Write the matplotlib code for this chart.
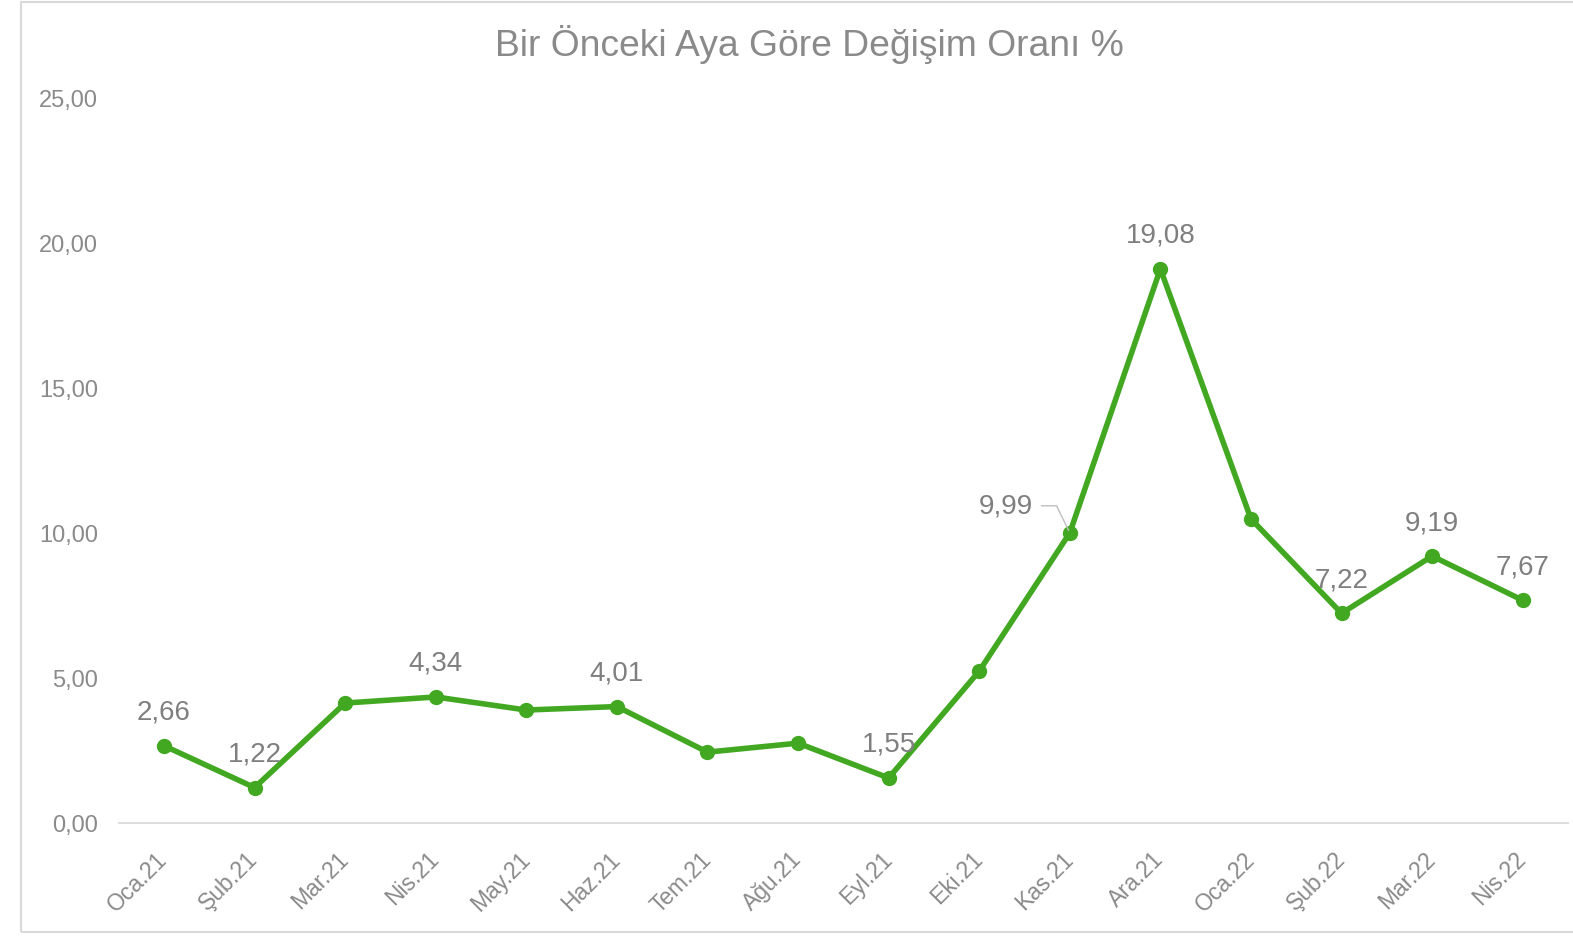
import matplotlib
matplotlib.use("Agg")
import matplotlib.pyplot as plt
from matplotlib.patches import Rectangle
from matplotlib.ticker import FuncFormatter

months = ["Oca.21", "Şub.21", "Mar.21", "Nis.21", "May.21", "Haz.21", "Tem.21", "Ağu.21",
          "Eyl.21", "Eki.21", "Kas.21", "Ara.21", "Oca.22", "Şub.22", "Mar.22", "Nis.22"]
change = [2.66, 1.22, 4.13, 4.34, 3.89, 4.01, 2.44, 2.75,
          1.55, 5.23, 9.99, 19.08, 10.47, 7.22, 9.19, 7.67]
labelled = ["Oca.21", "Şub.21", "Nis.21", "Haz.21", "Eyl.21", "Kas.21",
            "Ara.21", "Şub.22", "Mar.22", "Nis.22"]
yticks = [0, 5, 10, 15, 20, 25]

plt.rcParams['font.family'] = ['Liberation Sans', 'DejaVu Sans']

fig = plt.figure(figsize=(15.73, 9.37), dpi=100)
ax = fig.add_axes([118.7 / 1573, 1 - 824 / 937, (1568 - 118.7) / 1573, (824 - 98) / 937])

# outer chart frame
fig.patches.append(Rectangle((21 / 1573, 1 - 933 / 937), 1.1, 930 / 937,
                             transform=fig.transFigure, fill=False,
                             edgecolor='#d9d9d9', linewidth=1.5))

green = '#42a821'
x = range(len(months))
ax.plot(x, change, color=green, linewidth=4, marker='o', markersize=10,
        solid_joinstyle='round', zorder=3)

ax.set_xlim(-0.5, len(months) - 0.5)
ax.set_ylim(0, 25)
ax.set_yticks(yticks)
ax.yaxis.set_major_formatter(FuncFormatter(lambda v, p: f"{v:.2f}".replace('.', ',')))
ax.set_xticks(list(x))
ax.set_xticklabels(months, rotation=45, ha='right', va='center', rotation_mode='anchor')

for s in ['top', 'right', 'left']:
    ax.spines[s].set_visible(False)
ax.spines['bottom'].set_color('#d9d9d9')
ax.spines['bottom'].set_linewidth(1.3)
ax.tick_params(axis='both', length=0, colors='#8a8a8a')
ax.tick_params(axis='y', labelsize=17, pad=15)
ax.tick_params(axis='x', labelsize=16.5, pad=23)
for lbl in ax.get_xticklabels():
    lbl.set_x(lbl.get_position()[0])

for i, (m, v) in enumerate(zip(months, change)):
    if m not in labelled:
        continue
    txt = f"{v:.2f}".replace('.', ',')
    if m == "Kas.21":
        ax.annotate(txt, (i, v), xytext=(-46, 19.5), textcoords='offset points',
                    ha='center', va='center', fontsize=20, color='#7f7f7f',
                    arrowprops=dict(arrowstyle='-', color='#bfbfbf', lw=1,
                                    relpos=(1, 0.5), shrinkA=4, shrinkB=2,
                                    connectionstyle='angle,angleA=0,angleB=116,rad=0'))
    else:
        ax.annotate(txt, (i, v), xytext=(0, 24.5), textcoords='offset points',
                    ha='center', va='center', fontsize=20, color='#7f7f7f')

fig.text(809 / 1573, 1 - 45 / 937, "Bir Önceki Aya Göre Değişim Oranı %",
         ha='center', va='center', fontsize=26.8, color='#8a8a8a')

fig.savefig("out.png", dpi=100)
